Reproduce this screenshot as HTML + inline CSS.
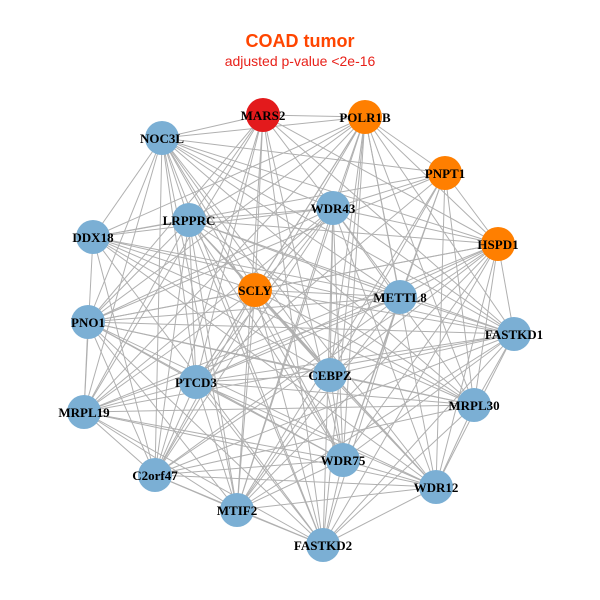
<!DOCTYPE html>
<html><head><meta charset="utf-8"><style>body{margin:0;background:#fff}svg{display:block}</style></head>
<body>
<svg id="s" width="600" height="600" xmlns="http://www.w3.org/2000/svg">
<rect width="600" height="600" fill="#fff"/>
<text x="300" y="47" text-anchor="middle" font-family="Liberation Sans, sans-serif" font-weight="bold" font-size="18" fill="#FF4500">COAD tumor</text>
<text x="300" y="66" text-anchor="middle" font-family="Liberation Sans, sans-serif" font-size="14" fill="#E8211A">adjusted p-value &lt;2e-16</text>
<g id="edges" stroke="#b0b0b0" stroke-width="1"></g>
<g id="nodes"></g>
<g font-family="Liberation Serif, serif" font-weight="bold" font-size="13" fill="#000" text-anchor="middle">
<text x="263" y="120">MARS2</text>
<text x="365" y="122">POLR1B</text>
<text x="162" y="143">NOC3L</text>
<text x="445" y="178">PNPT1</text>
<text x="333" y="213">WDR43</text>
<text x="189" y="225">LRPPRC</text>
<text x="93" y="242">DDX18</text>
<text x="498" y="249">HSPD1</text>
<text x="255" y="295">SCLY</text>
<text x="400" y="302">METTL8</text>
<text x="88" y="327">PNO1</text>
<text x="514" y="339">FASTKD1</text>
<text x="330" y="380">CEBPZ</text>
<text x="196" y="387">PTCD3</text>
<text x="84" y="417">MRPL19</text>
<text x="474" y="410">MRPL30</text>
<text x="343" y="465">WDR75</text>
<text x="155" y="480">C2orf47</text>
<text x="436" y="492">WDR12</text>
<text x="237" y="515">MTIF2</text>
<text x="323" y="550">FASTKD2</text>
</g>
</svg>
<script>
var N=[[263,115,"#E31A1C"],[365,117,"#FF7F00"],[162,138],[445,173,"#FF7F00"],[333,208],[189,220],[93,237],[498,244,"#FF7F00"],[255,290,"#FF7F00"],[400,297],[88,322],[514,334],[330,375],[196,382],[84,412],[474,405],[343,460],[155,475],[436,487],[237,510],[323,545]];
var ns="http://www.w3.org/2000/svg",E=document.getElementById("edges"),G=document.getElementById("nodes");
for(var i=0;i<N.length;i++)for(var j=i+1;j<N.length;j++){if((i*7+j*3)%9==0)continue;var l=document.createElementNS(ns,"line");l.setAttribute("x1",N[i][0]);l.setAttribute("y1",N[i][1]);l.setAttribute("x2",N[j][0]);l.setAttribute("y2",N[j][1]);E.appendChild(l);}
N.forEach(function(n){var c=document.createElementNS(ns,"circle");c.setAttribute("cx",n[0]);c.setAttribute("cy",n[1]);c.setAttribute("r",17);c.setAttribute("fill",n[2]||"#7BAFD4");G.appendChild(c);});
</script>
</body></html>
